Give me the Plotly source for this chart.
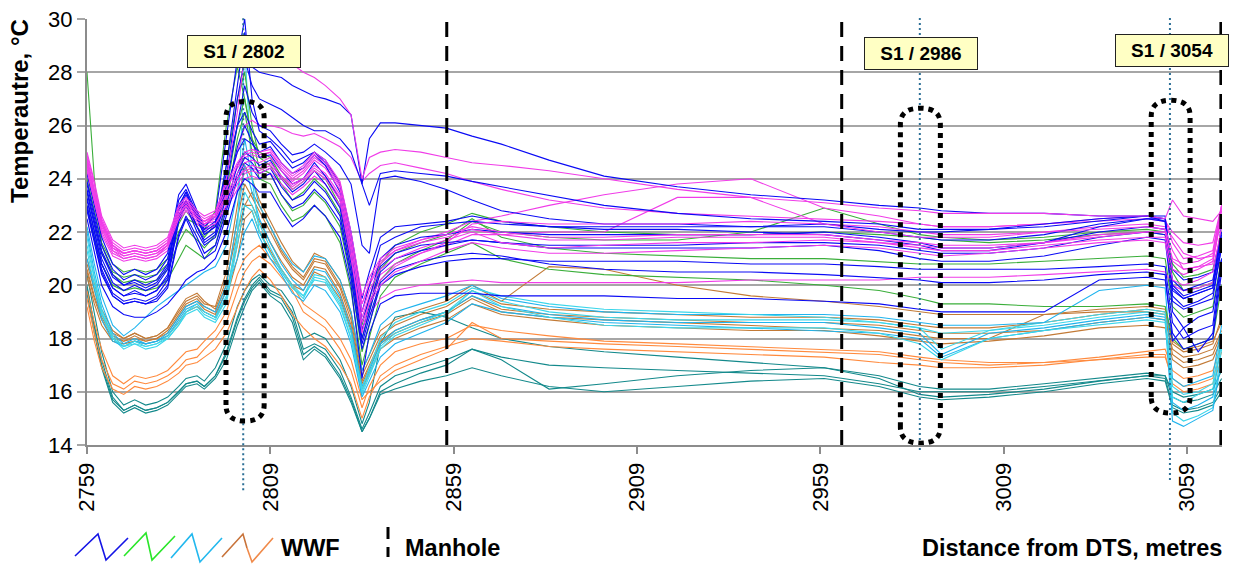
import plotly.graph_objects as go

# ---------------- data ----------------
distance_m = [2759, 2761, 2763, 2766, 2769, 2772, 2775, 2778, 2781, 2784,
              2786, 2789, 2791, 2794, 2797, 2800, 2802, 2804, 2806, 2809,
              2812, 2815, 2818, 2821, 2824, 2828, 2831, 2834, 2836, 2839,
              2843, 2850, 2857, 2864, 2872, 2885, 2900, 2920, 2940, 2960,
              2975, 2986, 2992, 3005, 3020, 3035, 3048, 3053, 3055, 3058,
              3062, 3066, 3068.4]

teal_1 = [20.0, 18.5, 17.2, 15.8, 15.3, 15.5, 15.3, 15.4, 15.6, 16.0,
          16.3, 16.4, 16.2, 16.6, 17.5, 18.8, 19.5, 20.0, 20.3, 19.8,
          19.6, 19.0, 17.6, 17.8, 17.6, 16.8, 15.8, 14.6, 15.2, 16.2,
          16.6, 16.9, 17.2, 17.6, 17.3, 17.0, 16.9, 16.8, 16.7, 16.6,
          16.3, 16.0, 16.0, 16.0, 16.2, 16.4, 16.6, 16.6, 15.8, 15.6,
          15.7, 15.9, 16.5]
teal_2 = [19.7, 18.2, 16.9, 15.6, 15.2, 15.4, 15.2, 15.3, 15.5, 15.9,
          16.2, 16.3, 16.1, 16.5, 17.2, 18.5, 19.2, 19.8, 20.1, 19.6,
          19.3, 18.6, 17.2, 17.6, 17.3, 16.5, 15.6, 14.5, 15.0, 16.0,
          16.3, 16.7, 17.0, 17.6, 17.2, 16.1, 16.3, 16.6, 16.8, 16.9,
          16.5, 15.9, 15.8, 15.9, 16.1, 16.4, 16.6, 16.5, 15.5, 15.3,
          15.4, 15.6, 16.2]
teal_3 = [20.4, 18.9, 17.5, 16.0, 15.5, 15.7, 15.5, 15.6, 15.8, 16.2,
          16.5, 16.6, 16.4, 16.9, 17.8, 19.2, 19.8, 20.2, 20.4, 20.0,
          19.8, 19.2, 18.0, 18.2, 18.0, 17.2, 16.2, 14.8, 15.6, 17.8,
          18.8, 19.0, 18.8, 18.4, 18.0, 17.7, 17.5, 17.3, 17.1, 16.9,
          16.6, 16.2, 16.1, 16.1, 16.3, 16.5, 16.7, 16.6, 16.0, 15.8,
          15.9, 16.1, 16.8]
teal_4 = [19.9, 18.4, 17.0, 15.7, 15.3, 15.5, 15.3, 15.4, 15.6, 16.0,
          16.3, 16.4, 16.2, 16.6, 17.4, 18.7, 19.4, 19.9, 20.2, 19.7,
          19.5, 18.8, 17.4, 17.7, 17.4, 16.6, 15.7, 14.5, 15.0, 15.9,
          16.1, 16.4, 16.6, 16.9, 16.6, 16.2, 16.0, 16.2, 16.4, 16.5,
          16.2, 15.8, 15.7, 15.8, 16.0, 16.3, 16.5, 16.4, 15.4, 15.2,
          15.3, 15.5, 16.0]

orange_1 = [19.5, 18.2, 17.2, 16.3, 16.1, 16.4, 16.3, 16.4, 16.6, 16.9,
            17.2, 17.3, 17.6, 18.0, 18.6, 19.8, 20.5, 20.9, 21.1, 20.8,
            20.3, 19.8, 19.0, 18.7, 18.4, 17.6, 16.8, 15.4, 16.2, 17.0,
            17.5, 17.8, 18.0, 18.5, 18.3, 18.1, 17.9, 17.8, 17.7, 17.6,
            17.5, 17.3, 17.2, 17.1, 17.1, 17.2, 17.3, 17.3, 16.5, 16.2,
            16.3, 16.5, 17.5]
orange_2 = [19.2, 17.9, 16.9, 16.1, 15.9, 16.2, 16.1, 16.2, 16.4, 16.7,
            17.0, 17.1, 17.3, 17.6, 18.2, 19.2, 19.8, 20.3, 20.6, 20.2,
            19.6, 18.9, 18.4, 18.0, 17.7, 17.0, 16.3, 15.0, 15.8, 16.6,
            17.0, 17.4, 17.7, 18.0, 17.9, 17.7, 17.6, 17.5, 17.4, 17.3,
            17.1, 17.0, 16.9, 16.9, 17.0, 17.2, 17.4, 17.4, 16.3, 16.0,
            16.1, 16.3, 17.2]
orange_3 = [19.8, 18.6, 17.6, 16.6, 16.3, 16.6, 16.5, 16.6, 16.8, 17.2,
            17.5, 17.6, 17.9, 18.3, 19.0, 20.4, 21.0, 21.3, 21.5, 21.0,
            20.6, 20.0, 19.3, 19.0, 18.7, 18.0, 17.2, 15.7, 16.0, 16.4,
            16.8, 17.2, 17.6, 18.6, 18.0, 17.9, 17.8, 17.7, 17.6, 17.5,
            17.4, 17.2, 17.1, 17.0, 17.1, 17.3, 17.5, 17.6, 16.8, 16.5,
            16.6, 16.8, 17.8]

brown_1 = [20.6, 19.6, 18.8, 18.1, 17.9, 18.1, 17.9, 18.0, 18.3, 18.9,
           19.3, 19.5, 19.2, 19.0, 20.0, 22.5, 23.8, 23.3, 22.8, 22.0,
           21.2, 20.6, 20.2, 20.9, 20.8, 19.9, 18.7, 16.4, 17.0, 17.9,
           18.3, 18.7, 19.0, 19.6, 19.1, 18.9, 18.8, 18.7, 18.6, 18.6,
           18.5, 18.3, 18.2, 18.2, 18.3, 18.6, 18.8, 18.7, 17.6, 17.3,
           17.4, 17.6, 18.3]
brown_2 = [21.0, 20.0, 19.1, 18.3, 18.0, 18.2, 18.0, 18.1, 18.4, 19.0,
           19.4, 19.6, 19.3, 19.2, 20.5, 23.0, 24.5, 24.0, 23.2, 22.4,
           21.6, 20.9, 20.5, 21.2, 21.0, 20.2, 19.0, 16.8, 17.4, 18.3,
           18.7, 19.1, 19.4, 20.0, 19.4, 20.7, 20.6, 20.0, 19.6, 19.4,
           19.2, 19.0, 18.9, 18.9, 18.9, 19.1, 19.2, 19.1, 17.9, 17.6,
           17.7, 17.9, 18.6]
brown_3 = [20.3, 19.3, 18.5, 17.9, 17.8, 17.9, 17.8, 17.9, 18.1, 18.6,
           19.0, 19.2, 19.0, 18.8, 19.5, 21.0, 22.5, 22.8, 22.0, 21.3,
           20.6, 20.0, 19.8, 20.5, 20.3, 19.5, 18.3, 16.1, 16.7, 17.6,
           18.0, 18.4, 18.7, 19.3, 18.9, 18.7, 18.5, 18.4, 18.3, 18.3,
           18.1, 17.9, 17.8, 17.9, 18.1, 18.4, 18.5, 18.4, 17.2, 16.9,
           17.0, 17.2, 18.0]
brown_4 = [20.8, 19.8, 18.9, 18.2, 18.0, 18.2, 18.0, 18.1, 18.4, 19.1,
           19.5, 19.7, 19.4, 19.1, 20.2, 22.0, 23.0, 23.5, 23.0, 22.2,
           21.3, 20.7, 20.3, 21.0, 20.9, 20.0, 18.9, 16.6, 17.2, 18.1,
           18.5, 18.9, 19.2, 19.8, 19.3, 19.1, 19.0, 18.9, 18.8, 18.8,
           18.7, 18.5, 18.4, 18.4, 18.6, 18.9, 19.1, 19.0, 17.8, 17.5,
           17.6, 17.8, 18.8]
brown_5 = [20.5, 19.5, 18.7, 18.0, 17.9, 18.0, 17.9, 18.0, 18.2, 18.8,
           19.2, 19.4, 19.1, 18.9, 19.8, 21.5, 23.0, 23.0, 22.4, 21.6,
           20.9, 20.3, 20.0, 20.7, 20.6, 19.7, 18.5, 16.3, 16.9, 17.8,
           18.2, 18.6, 18.9, 19.5, 19.0, 18.8, 18.7, 18.6, 18.5, 18.4,
           18.3, 18.1, 18.0, 18.0, 18.9, 19.0, 19.0, 18.9, 17.4, 17.1,
           17.2, 17.4, 18.2]

cyan_1 = [22.0, 20.5, 19.3, 18.2, 17.8, 18.0, 17.8, 17.9, 18.2, 18.8,
          19.2, 19.4, 19.2, 19.0, 20.0, 22.5, 24.5, 23.5, 22.5, 21.6,
          20.8, 20.2, 19.8, 20.6, 20.5, 19.6, 18.4, 16.2, 16.8, 17.8,
          18.3, 18.7, 19.0, 19.6, 19.2, 18.9, 18.7, 18.6, 18.6, 18.6,
          18.4, 18.2, 17.4, 18.2, 18.4, 18.7, 18.9, 18.8, 15.6, 15.3,
          15.5, 15.8, 18.0]
cyan_2 = [21.5, 20.2, 19.0, 18.0, 17.6, 17.8, 17.6, 17.7, 18.0, 18.5,
          19.0, 19.2, 18.9, 18.7, 19.5, 21.8, 29.0, 24.0, 22.0, 21.2,
          20.5, 19.9, 19.5, 20.3, 20.2, 19.3, 18.0, 15.9, 16.6, 17.6,
          18.1, 18.5, 18.9, 19.8, 19.4, 19.0, 18.8, 18.7, 18.7, 18.7,
          18.6, 18.4, 17.6, 18.3, 18.6, 18.9, 19.1, 19.0, 15.2, 14.9,
          15.1, 15.4, 17.6]
cyan_3 = [21.0, 19.8, 18.7, 17.9, 17.7, 17.9, 17.8, 17.9, 18.1, 18.7,
          19.1, 19.3, 19.0, 18.8, 19.8, 21.0, 22.0, 22.5, 21.8, 21.0,
          20.4, 19.7, 19.4, 20.0, 19.8, 19.0, 17.8, 15.8, 16.4, 17.3,
          17.8, 18.2, 18.6, 19.3, 19.0, 18.8, 18.6, 18.5, 18.4, 18.3,
          18.2, 18.0, 17.3, 18.0, 18.3, 18.6, 18.8, 18.7, 14.9, 14.7,
          15.0, 15.3, 17.2]
cyan_4 = [22.2, 20.8, 19.6, 18.5, 18.1, 18.4, 18.8, 19.2, 19.5, 19.8,
          20.0, 20.3, 20.5, 20.7, 21.5, 23.5, 25.5, 24.0, 23.0, 22.2,
          21.4, 20.8, 20.5, 21.1, 21.0, 20.2, 19.0, 16.8, 17.4, 18.5,
          19.0, 19.3, 19.6, 20.0, 19.5, 19.2, 19.0, 18.9, 18.9, 18.9,
          18.8, 18.6, 18.5, 18.5, 18.6, 19.8, 20.0, 19.9, 16.5, 16.2,
          16.4, 16.6, 18.5]
cyan_5 = [21.8, 20.3, 19.1, 18.1, 17.7, 17.9, 17.7, 17.8, 18.1, 18.6,
          19.0, 19.3, 19.0, 18.8, 19.6, 22.0, 23.5, 23.0, 22.3, 21.4,
          20.6, 20.0, 19.6, 20.4, 20.3, 19.4, 18.2, 16.0, 16.7, 17.7,
          18.2, 18.6, 19.0, 19.8, 19.2, 18.8, 18.5, 18.4, 18.4, 18.4,
          18.2, 17.8, 17.2, 18.0, 18.3, 18.5, 18.7, 18.6, 15.8, 15.6,
          15.9, 16.1, 17.8]
cyan_6 = [21.3, 20.0, 18.9, 18.0, 17.7, 17.8, 17.7, 17.8, 18.0, 18.5,
          18.9, 19.1, 18.8, 18.6, 19.3, 21.5, 23.0, 22.8, 22.0, 21.2,
          20.5, 19.9, 19.6, 20.2, 20.1, 19.2, 18.0, 16.1, 16.9, 18.0,
          18.6, 19.0, 19.3, 19.9, 19.6, 19.3, 19.1, 19.0, 18.9, 18.8,
          18.6, 18.4, 18.2, 18.3, 18.5, 18.8, 19.0, 18.9, 16.2, 15.9,
          16.0, 16.3, 18.2]

green_1 = [28.0, 24.0, 21.5, 20.5, 20.3, 20.4, 20.3, 20.4, 20.8, 22.0,
           22.5, 22.3, 22.1, 22.8, 26.0, 28.2, 27.0, 25.5, 25.0, 24.8,
           24.1, 23.6, 23.9, 24.3, 24.0, 23.0, 21.0, 18.5, 19.5, 20.8,
           21.5, 22.0, 22.3, 22.7, 22.4, 22.2, 22.0, 21.9, 21.9, 22.0,
           21.9, 21.8, 21.7, 21.6, 21.7, 21.9, 22.0, 21.9, 20.5, 19.8,
           19.9, 20.1, 21.8]
green_2 = [23.0, 21.8, 20.8, 20.0, 19.8, 19.9, 19.8, 19.9, 20.2, 21.0,
           21.5, 21.2, 21.0, 21.5, 23.0, 25.5, 26.5, 25.0, 24.0, 23.8,
           23.0, 22.4, 22.6, 23.0, 22.6, 21.6, 19.8, 17.0, 18.0, 19.6,
           20.3, 20.8, 21.2, 21.6, 21.0, 20.6, 20.4, 20.3, 20.2, 20.0,
           19.8, 19.5, 19.3, 19.3, 19.2, 19.2, 19.3, 19.2, 18.0, 17.6,
           17.8, 18.0, 20.0]
green_3 = [24.0, 22.8, 21.6, 20.8, 20.5, 20.6, 20.5, 20.6, 21.0, 22.3,
           22.8, 22.2, 21.8, 22.3, 24.5, 27.0, 28.0, 26.0, 24.8, 24.5,
           23.8, 23.2, 23.5, 24.0, 23.6, 22.7, 20.6, 18.0, 19.0, 20.6,
           21.2, 21.6, 21.9, 22.5, 21.8, 21.4, 21.2, 21.1, 21.0, 21.0,
           20.9, 20.8, 20.8, 20.8, 20.9, 21.0, 21.1, 21.0, 19.2, 18.8,
           19.0, 19.2, 21.0]
green_4 = [23.5, 22.3, 21.2, 20.4, 20.1, 20.2, 20.1, 20.2, 20.6, 21.6,
           22.1, 21.7, 21.4, 21.9, 23.5, 26.0, 27.0, 25.5, 24.4, 24.2,
           23.4, 22.8, 23.0, 23.5, 23.1, 22.2, 20.2, 17.5, 18.5, 20.2,
           20.8, 21.3, 21.7, 22.4, 22.0, 21.8, 21.7, 21.7, 22.0, 22.9,
           22.3, 21.9, 21.8, 21.7, 21.8, 22.0, 22.1, 22.0, 20.8, 20.3,
           20.4, 20.6, 22.0]

blue_1 = [23.8, 22.5, 21.3, 20.4, 20.0, 20.2, 20.0, 20.2, 20.8, 23.0,
          23.5, 22.6, 22.0, 22.3, 24.5, 27.5, 29.5, 28.2, 28.0, 27.9,
          27.8, 27.5, 27.3, 27.1, 27.0, 26.8, 26.4, 23.8, 25.5, 26.1,
          26.1, 26.0, 25.9, 25.6, 25.3, 24.7, 24.1, 23.7, 23.4, 23.2,
          23.0, 22.9, 22.8, 22.7, 22.7, 22.6, 22.6, 22.5, 20.0, 19.6,
          19.8, 20.0, 21.8]
blue_2 = [23.5, 22.2, 21.0, 20.1, 19.8, 20.0, 19.8, 20.0, 20.6, 22.8,
          23.4, 22.5, 21.9, 22.2, 24.0, 27.0, 28.5, 27.5, 27.0, 26.8,
          26.6, 26.3, 26.0, 25.8, 25.8, 25.5, 25.0, 23.8, 23.0, 24.2,
          24.3, 24.2, 24.1, 23.9, 23.7, 23.4, 23.0, 22.7, 22.5, 22.4,
          22.3, 22.1, 22.1, 22.1, 22.2, 22.4, 22.6, 22.6, 19.8, 19.5,
          19.7, 19.9, 22.3]
blue_3 = [23.6, 22.4, 21.2, 20.3, 20.0, 20.1, 19.9, 20.1, 20.7, 22.9,
          23.5, 22.5, 21.9, 22.2, 23.6, 25.0, 25.5, 25.3, 25.0, 25.2,
          24.6, 24.2, 24.4, 24.9, 24.5, 23.5, 21.3, 18.6, 19.5, 21.0,
          21.5, 21.8, 21.9, 22.1, 22.0, 21.9, 21.9, 21.9, 21.9, 22.0,
          21.8, 21.6, 21.4, 21.4, 21.6, 22.0, 22.2, 22.1, 20.2, 19.8,
          20.0, 20.2, 21.9]
blue_4 = [23.0, 21.8, 20.6, 19.7, 19.4, 19.5, 19.4, 19.6, 20.2, 22.4,
          23.0, 22.0, 21.5, 21.8, 23.0, 24.5, 25.0, 24.8, 24.5, 24.7,
          24.0, 23.5, 23.8, 24.3, 23.8, 22.9, 20.8, 18.0, 19.0, 20.5,
          21.0, 21.3, 21.5, 21.7, 21.6, 21.4, 21.4, 21.4, 21.4, 21.5,
          21.3, 21.0, 20.9, 20.9, 21.1, 21.5, 21.8, 21.7, 19.4, 19.1,
          19.3, 19.5, 21.5]
blue_5 = [22.8, 21.6, 20.4, 19.6, 19.3, 19.4, 19.3, 19.4, 19.9, 21.8,
          22.5, 21.6, 21.0, 21.3, 22.6, 24.0, 24.6, 24.4, 24.0, 24.2,
          23.4, 22.9, 23.1, 23.6, 23.2, 22.4, 20.3, 17.6, 18.6, 20.0,
          20.4, 20.7, 20.9, 21.0, 21.0, 20.9, 20.9, 20.9, 20.8, 20.8,
          20.7, 20.6, 20.6, 20.6, 20.6, 20.7, 20.8, 20.7, 18.6, 18.0,
          18.3, 18.5, 21.0]
blue_6 = [22.5, 21.2, 20.0, 19.2, 18.9, 18.8, 18.8, 19.0, 19.3, 19.8,
          20.2, 20.5, 20.6, 21.0, 22.0, 23.5, 24.0, 23.8, 23.5, 23.5,
          22.8, 22.2, 22.5, 23.0, 22.6, 21.8, 20.0, 16.5, 18.2, 19.3,
          19.6, 19.7, 19.7, 19.7, 19.6, 19.6, 19.6, 19.5, 19.5, 19.4,
          19.3, 19.1, 19.0, 19.0, 19.0, 20.2, 20.3, 20.2, 18.2, 17.6,
          17.8, 18.0, 20.5]
blue_7 = [24.2, 23.0, 21.8, 20.8, 20.4, 20.6, 20.4, 20.6, 21.2, 23.4,
          23.8, 22.8, 22.2, 22.6, 25.5, 28.5, 30.0, 27.0, 25.8, 25.5,
          25.1, 24.6, 24.8, 25.0, 24.6, 23.8, 22.0, 19.5, 20.5, 21.8,
          22.2, 22.3, 22.4, 22.6, 22.4, 22.2, 22.2, 22.2, 22.2, 22.2,
          22.0, 21.8, 21.7, 21.7, 21.9, 22.3, 22.5, 22.5, 20.6, 20.2,
          20.3, 20.5, 22.0]
blue_8 = [23.3, 22.0, 20.8, 19.9, 19.6, 19.8, 19.6, 19.8, 20.4, 22.6,
          23.2, 22.2, 21.7, 22.0, 23.8, 26.0, 27.5, 26.5, 26.0, 25.8,
          25.3, 24.9, 25.0, 25.3, 25.0, 24.5, 23.8, 21.5, 21.2, 24.0,
          24.1, 23.9, 23.6, 23.2, 22.8, 22.5, 22.3, 22.3, 22.2, 22.3,
          22.1, 22.0, 22.0, 22.1, 22.3, 22.5, 22.6, 22.4, 19.0, 18.4,
          18.8, 19.0, 21.0]
blue_9 = [23.9, 22.7, 21.5, 20.6, 20.2, 20.4, 20.2, 20.4, 21.0, 23.2,
          23.6, 22.7, 22.1, 22.4, 24.2, 26.0, 26.5, 25.8, 25.3, 25.4,
          24.9, 24.4, 24.6, 25.0, 24.7, 23.8, 21.6, 19.0, 20.0, 21.5,
          21.8, 22.2, 22.3, 22.4, 22.3, 22.2, 22.1, 22.1, 22.0, 21.9,
          21.7, 21.5, 21.3, 21.3, 21.6, 22.2, 22.5, 22.4, 19.6, 19.2,
          19.4, 19.7, 21.4]
blue_10 = [23.2, 22.0, 20.8, 19.9, 19.6, 19.7, 19.6, 19.8, 20.3, 22.5,
           23.1, 22.2, 21.6, 21.9, 23.3, 25.2, 26.0, 25.4, 24.8, 24.9,
           24.3, 23.8, 24.0, 24.6, 24.1, 23.2, 21.0, 18.3, 19.2, 20.7,
           21.2, 21.5, 21.6, 21.7, 21.6, 21.5, 21.5, 21.5, 21.6, 21.6,
           21.5, 21.3, 21.2, 21.2, 21.4, 21.8, 22.0, 21.9, 19.9, 19.5,
           19.7, 19.9, 21.6]
blue_11 = [22.9, 21.7, 20.5, 19.6, 19.3, 19.4, 19.3, 19.5, 20.0, 21.9,
           22.6, 21.8, 21.2, 21.5, 22.8, 24.2, 24.8, 24.6, 24.2, 24.4,
           23.7, 23.2, 23.4, 23.9, 23.5, 22.6, 20.5, 17.8, 18.8, 20.1,
           20.6, 20.9, 21.1, 21.2, 21.1, 20.8, 20.6, 20.5, 20.5, 20.4,
           20.3, 20.2, 20.1, 20.1, 20.2, 20.4, 20.5, 20.4, 17.9, 18.4,
           17.5, 18.2, 20.8]

magenta_1 = [24.8, 23.6, 22.4, 21.5, 21.2, 21.3, 21.2, 21.3, 21.6, 22.8,
             23.1, 22.6, 22.4, 22.6, 23.4, 24.2, 24.6, 24.7, 24.6, 24.8,
             24.3, 23.9, 24.2, 24.7, 24.4, 23.6, 21.5, 19.0, 19.8, 20.6,
             21.0, 21.4, 21.7, 22.0, 21.6, 21.4, 21.5, 21.6, 21.6, 21.7,
             21.6, 21.4, 21.3, 21.3, 21.5, 21.7, 21.8, 21.8, 20.6, 20.4,
             20.6, 20.9, 22.6]
magenta_2 = [25.0, 23.9, 22.6, 21.7, 21.4, 21.5, 21.4, 21.5, 21.8, 23.0,
             23.3, 22.8, 22.6, 22.8, 23.8, 24.6, 25.0, 25.1, 25.0, 25.1,
             24.6, 24.2, 24.5, 25.0, 24.7, 23.9, 22.0, 19.6, 20.3, 21.0,
             21.4, 21.7, 21.9, 22.2, 22.0, 21.8, 21.8, 21.9, 21.9, 21.9,
             21.7, 21.6, 21.5, 21.5, 21.6, 21.9, 22.0, 22.0, 21.0, 20.8,
             20.9, 21.2, 23.0]
magenta_3 = [24.3, 23.2, 22.0, 21.2, 21.0, 21.1, 21.0, 21.1, 21.4, 22.5,
             22.9, 22.4, 22.2, 22.3, 23.0, 23.8, 24.2, 24.3, 24.2, 24.4,
             24.0, 23.6, 23.9, 24.3, 24.0, 23.2, 21.0, 18.6, 19.3, 20.0,
             20.5, 20.9, 21.3, 21.6, 21.4, 21.2, 21.2, 21.3, 21.4, 21.5,
             21.4, 21.2, 21.1, 21.2, 21.4, 21.6, 21.7, 21.6, 20.2, 20.0,
             20.2, 20.5, 22.2]
magenta_4 = [24.6, 23.5, 22.3, 21.4, 21.1, 21.2, 21.1, 21.2, 21.5, 22.7,
             23.0, 22.5, 22.3, 22.5, 23.3, 24.0, 24.4, 24.5, 24.4, 24.6,
             24.1, 23.8, 24.0, 24.5, 24.2, 23.4, 21.3, 18.2, 19.4, 20.2,
             20.7, 21.2, 21.6, 22.3, 22.4, 22.3, 22.3, 22.3, 22.4, 22.3,
             22.0, 21.8, 21.8, 21.8, 22.0, 22.1, 22.2, 22.1, 21.3, 20.6,
             20.7, 20.8, 22.8]
magenta_5 = [24.5, 23.4, 22.2, 21.3, 21.1, 21.2, 21.1, 21.2, 21.5, 22.6,
             23.0, 22.5, 22.3, 22.6, 24.0, 26.5, 28.6, 28.8, 28.6, 28.5,
             28.4, 28.3, 28.0, 27.8, 27.5, 27.0, 26.4, 24.0, 24.8, 25.0,
             25.1, 25.0, 24.8, 24.6, 24.5, 24.3, 24.0, 23.6, 23.3, 23.1,
             22.9, 22.8, 22.7, 22.7, 22.7, 22.6, 22.6, 22.5, 23.2, 22.6,
             22.5, 22.4, 22.8]
magenta_6 = [24.7, 23.6, 22.4, 21.5, 21.2, 21.3, 21.2, 21.3, 21.6, 22.8,
             23.2, 22.6, 22.4, 22.7, 23.6, 24.4, 24.8, 24.9, 24.8, 25.0,
             24.4, 24.0, 24.3, 24.8, 24.5, 23.7, 21.8, 19.3, 20.0, 20.8,
             21.3, 21.7, 22.0, 22.4, 22.6, 23.0, 23.4, 23.8, 24.0, 22.9,
             22.6, 22.3, 22.2, 22.2, 22.3, 22.5, 22.6, 22.5, 21.6, 21.0,
             21.1, 21.3, 23.0]
magenta_7 = [24.4, 23.3, 22.1, 21.3, 21.0, 21.1, 21.0, 21.1, 21.5, 22.6,
             23.0, 22.5, 22.3, 22.4, 23.2, 24.0, 24.3, 24.4, 24.3, 24.5,
             24.1, 23.7, 24.0, 24.4, 24.1, 23.3, 21.1, 18.8, 19.6, 20.4,
             20.8, 21.2, 21.5, 21.9, 21.9, 22.0, 22.0, 23.3, 23.3, 22.3,
             22.2, 22.0, 21.9, 21.9, 22.0, 22.2, 22.3, 22.2, 21.8, 21.2,
             21.0, 21.1, 22.5]
magenta_8 = [24.2, 23.1, 21.9, 21.1, 20.9, 21.0, 20.9, 21.0, 21.3, 22.4,
             22.8, 22.3, 22.1, 22.2, 22.9, 23.6, 24.0, 24.1, 24.0, 24.2,
             23.8, 23.4, 23.7, 24.1, 23.8, 23.0, 20.8, 18.4, 18.9, 19.5,
             19.8, 20.0, 20.1, 20.2, 20.1, 20.1, 20.1, 20.1, 20.2, 20.2,
             20.2, 20.3, 20.3, 20.3, 20.4, 20.5, 20.6, 20.5, 20.0, 19.8,
             19.9, 20.1, 21.5]
magenta_9 = [24.9, 23.8, 22.5, 21.6, 21.3, 21.4, 21.3, 21.4, 21.7, 22.9,
             23.2, 22.7, 22.5, 22.7, 23.6, 24.5, 24.9, 25.0, 24.9, 25.0,
             24.5, 24.1, 24.4, 24.9, 24.6, 23.8, 21.7, 19.3, 20.1, 20.9,
             21.3, 21.6, 21.8, 22.1, 21.9, 21.7, 21.7, 21.8, 21.8, 21.8,
             21.6, 21.5, 21.4, 21.4, 21.6, 21.8, 22.0, 22.0, 20.9, 20.6,
             20.7, 21.0, 22.9]
magenta_10 = [24.6, 23.5, 22.3, 21.4, 21.2, 21.3, 21.2, 21.3, 21.6, 22.8,
              23.1, 22.6, 22.4, 22.6, 23.5, 25.0, 26.0, 26.2, 26.0, 26.0,
              25.9, 25.7, 25.6, 25.7, 25.5, 25.2, 24.8, 23.9, 24.2, 24.5,
              24.6, 24.4, 24.2, 23.9, 23.6, 23.2, 22.9, 22.7, 22.6, 22.5,
              22.4, 22.3, 22.2, 22.2, 22.3, 22.4, 22.5, 22.4, 22.0, 21.6,
              21.5, 21.6, 23.0]

y_ticks = [14, 16, 18, 20, 22, 24, 26, 28, 30]
x_ticks = [2759, 2809, 2859, 2909, 2959, 3009, 3059]
manholes_m = [2857.1, 2964.8, 3068.2]
s1_positions_m = [2801.6, 2986.1, 3054.3]
s1_labels = ["S1 / 2802", "S1 / 2986", "S1 / 3054"]

# ---------------- styles ----------------
TEAL = "#13898B"
ORANGE = "#FF8A3D"
BROWN = "#C27A36"
CYAN_A = "#1FB4EE"
CYAN_B = "#3BD6EA"
GREEN = "#3AAE3A"
BLUE = "#0A0AF5"
MAGENTA = "#F03CE8"

series = [
    (teal_1, TEAL), (teal_2, TEAL), (teal_3, TEAL), (teal_4, TEAL),
    (orange_1, ORANGE), (orange_2, ORANGE), (orange_3, ORANGE),
    (brown_1, BROWN), (brown_2, BROWN), (brown_3, BROWN), (brown_4, BROWN), (brown_5, BROWN),
    (cyan_1, CYAN_A), (cyan_2, CYAN_B), (cyan_3, CYAN_A), (cyan_4, CYAN_A), (cyan_5, CYAN_B),
    (cyan_6, CYAN_B),
    (green_1, GREEN), (green_2, GREEN), (green_3, GREEN), (green_4, GREEN),
    (magenta_8, MAGENTA), (magenta_6, MAGENTA), (magenta_7, MAGENTA), (magenta_10, MAGENTA),
    (blue_1, BLUE), (blue_2, BLUE), (blue_3, BLUE), (blue_4, BLUE), (blue_5, BLUE),
    (blue_6, BLUE), (blue_7, BLUE), (blue_8, BLUE), (blue_9, BLUE), (blue_10, BLUE),
    (blue_11, BLUE),
    (magenta_1, MAGENTA), (magenta_2, MAGENTA), (magenta_3, MAGENTA),
    (magenta_4, MAGENTA), (magenta_5, MAGENTA), (magenta_9, MAGENTA),
]

FONT = "Arial, 'Liberation Sans', sans-serif"
GRID = "#A6A6A6"

fig = go.Figure()
for vals, col in series:
    fig.add_trace(go.Scatter(x=distance_m, y=vals, mode="lines",
                             line=dict(color=col, width=1.1),
                             showlegend=False, hoverinfo="skip"))

shapes = []
for xm in manholes_m:
    shapes.append(dict(type="line", xref="x", yref="y", x0=xm, x1=xm, y0=14, y1=30,
                       line=dict(color="black", width=3, dash="15px,9px")))
s1_extent = [(-0.106, 1.009), (-0.012, 1.009), (-0.082, 1.009)]
for xs, (yb, yt) in zip(s1_positions_m, s1_extent):
    shapes.append(dict(type="line", xref="x", yref="paper", x0=xs, x1=xs, y0=yb, y1=yt,
                       line=dict(color="#2C6F96", width=2, dash="2px,3px")))
ovals = [(2796.9, 2807.3, 26.9, 14.9), (2980.8, 2991.7, 26.65, 14.07), (3049.2, 3059.8, 26.95, 15.2)]
for L, R, T, B in ovals:
    m = (L + R) / 2
    ry = 0.6
    p = (f"M {L},{B+ry} L {L},{T-ry} Q {L},{T} {m},{T} Q {R},{T} {R},{T-ry} "
         f"L {R},{B+ry} Q {R},{B} {m},{B} Q {L},{B} {L},{B+ry} Z")
    shapes.append(dict(type="path", xref="x", yref="y", path=p,
                       line=dict(color="black", width=5, dash="dot")))

def P(px, py):
    return (px - 87) / 1135, (445 - py) / 426

def zig(points, color):
    pts = [P(*q) for q in points]
    d = "M " + " L ".join(f"{a:.5f},{b:.5f}" for a, b in pts)
    return dict(type="path", xref="paper", yref="paper", path=d,
                line=dict(color=color, width=1.6))

shapes.append(zig([(75, 556), (98, 534), (106, 560), (128, 538)], "#1414E6"))
shapes.append(zig([(124, 556), (146, 533), (152, 560), (175, 536)], "#2AE62A"))
shapes.append(zig([(171, 558), (192, 534), (200, 562), (222, 538)], "#22B8EE"))
shapes.append(zig([(222, 557), (243, 534), (247, 548)], "#C8733A"))
shapes.append(zig([(247, 548), (252, 562), (273, 538)], "#F08A4A"))
x0, y0 = P(388, 527)
x1, y1 = P(388, 557)
shapes.append(dict(type="line", xref="paper", yref="paper", x0=x0, x1=x1, y0=y0, y1=y1,
                   line=dict(color="black", width=3, dash="12px,8px")))

annotations = []
box_centres = [(244, 51.5), (921, 53.5), (1172, 50)]
for lab, (cx, cy) in zip(s1_labels, box_centres):
    ax, ay = P(cx, cy)
    annotations.append(dict(xref="paper", yref="paper", x=ax, y=ay, text=f"<b>{lab}</b>",
                            showarrow=False, font=dict(family=FONT, size=19, color="black"),
                            bgcolor="#FFFFC4", bordercolor="#222222", borderwidth=1,
                            borderpad=4, width=104, height=23, xanchor="center", yanchor="middle"))

ax, ay = P(279, 548)
annotations.append(dict(xref="paper", yref="paper", x=ax, y=ay, text="<b>WWF</b>", showarrow=False,
                        xanchor="left", yanchor="middle", font=dict(family=FONT, size=23.5, color="black")))
ax, ay = P(403, 548)
annotations.append(dict(xref="paper", yref="paper", x=ax, y=ay, text="<b>Manhole</b>", showarrow=False,
                        xanchor="left", yanchor="middle", font=dict(family=FONT, size=23.5, color="black")))
ax, ay = P(1224, 548)
annotations.append(dict(xref="paper", yref="paper", x=ax, y=ay, text="<b>Distance from DTS, metres</b>",
                        showarrow=False, xanchor="right", yanchor="middle",
                        font=dict(family=FONT, size=23.5, color="black")))
ax, ay = P(19, 111)
annotations.append(dict(xref="paper", yref="paper", x=ax, y=ay, text="<b>Temperautre, °C</b>",
                        showarrow=False, textangle=-90, xanchor="center", yanchor="middle",
                        font=dict(family=FONT, size=24, color="black")))

fig.update_layout(
    width=1237, height=566,
    margin=dict(l=87, r=15, t=19, b=121, autoexpand=False),
    paper_bgcolor="white", plot_bgcolor="white",
    shapes=shapes, annotations=annotations,
    showlegend=False,
    xaxis=dict(range=[2759, 3068.5], tickvals=x_ticks, ticktext=[str(v) for v in x_ticks],
               tickangle=-90, ticks="outside", ticklen=7, tickwidth=2, tickcolor="#8C8C8C",
               showline=True, linecolor="#8C8C8C", linewidth=2, showgrid=False, zeroline=False,
               automargin=False,
               tickfont=dict(family=FONT, size=22, color="black")),
    yaxis=dict(range=[14, 30], tickvals=y_ticks, ticks="outside", ticklen=8, tickwidth=2,
               tickcolor=GRID, showline=True, linecolor="#8C8C8C", linewidth=2,
               showgrid=True, gridcolor=GRID, gridwidth=2, zeroline=False, automargin=False,
               tickfont=dict(family=FONT, size=22, color="black")),
)

fig.write_html("out.html", config={"displayModeBar": False},
               post_script="document.body.style.margin='0';document.body.style.padding='0';")
